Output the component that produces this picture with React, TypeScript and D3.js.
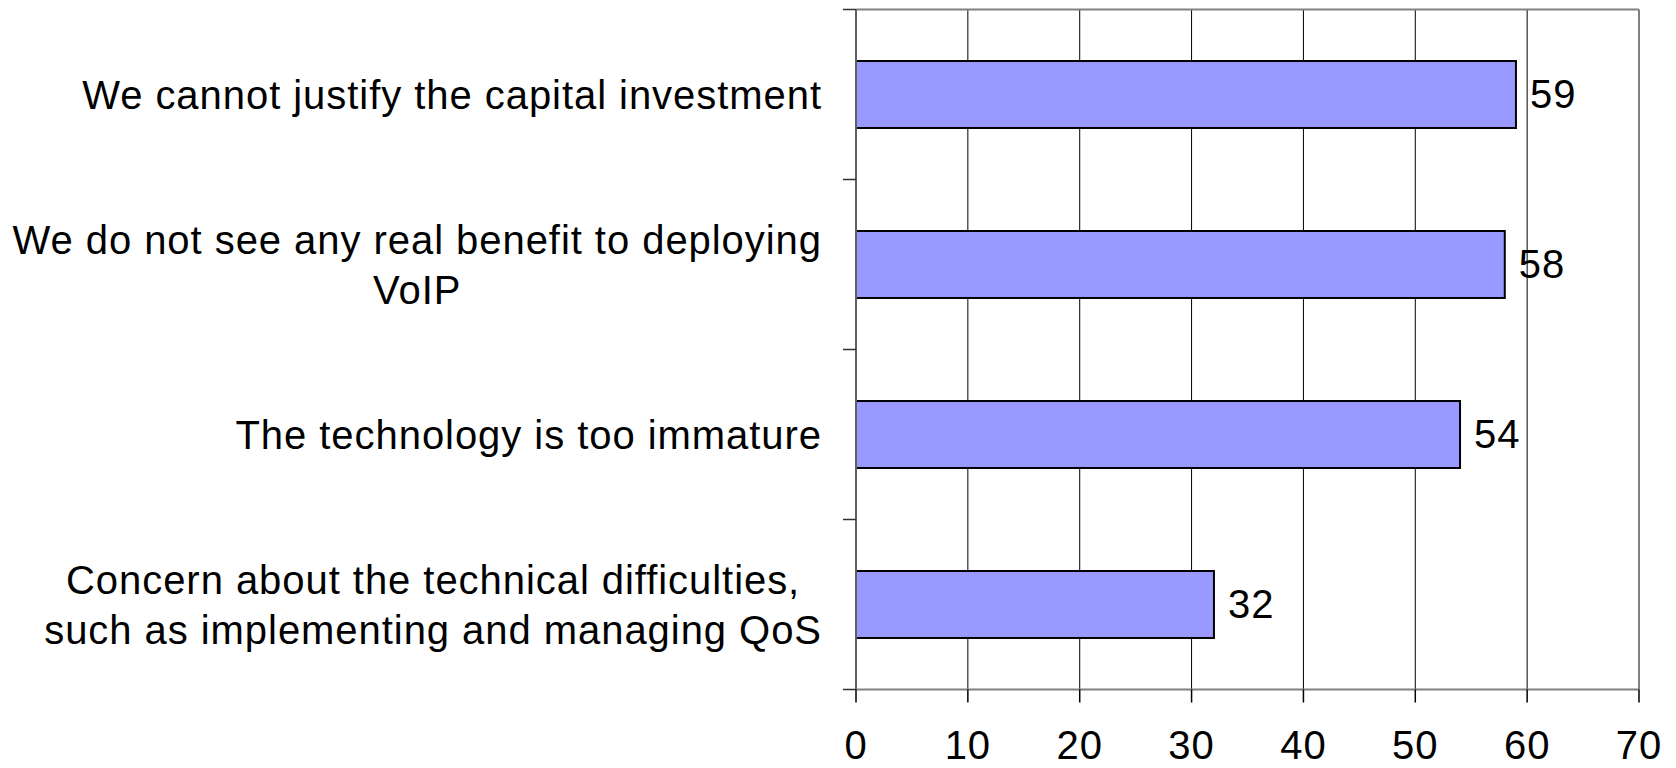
import React, { useEffect, useRef } from "react";
import * as d3 from "d3";

const categories: string[][] = [
  ["We cannot justify the capital investment"],
  ["We do not see any real benefit to deploying", "VoIP"],
  ["The technology is too immature"],
  ["Concern about the technical difficulties,", "such as implementing and managing QoS"],
];
const values: number[] = [59, 58, 54, 32];
const xTicks: number[] = [0, 10, 20, 30, 40, 50, 60, 70];

const W = 1676;
const H = 768;
const left = 856;
const right = 1639;
const top = 9.5;
const bottom = 689.5;
const FONT = "'Liberation Sans', Arial, sans-serif";
const FS = 40;
const LS = 0.95;

export default function App() {
  const ref = useRef<SVGSVGElement>(null);
  useEffect(() => {
    const svg = d3.select(ref.current);
    svg.selectAll("*").remove();
    const x = d3.scaleLinear().domain([0, 70]).range([left, right]);
    const idx = categories.map((_, i) => String(i));
    const y = d3.scaleBand().domain(idx).range([top, bottom]).paddingInner(0.606).paddingOuter(0.303);
    const band = (bottom - top) / categories.length;

    // gridlines
    svg.append("g").selectAll("line").data(xTicks.filter((t) => t > 0 && t < 70)).join("line")
      .attr("x1", (d) => x(d)).attr("x2", (d) => x(d))
      .attr("y1", top).attr("y2", bottom)
      .attr("stroke", "#000").attr("stroke-width", 1);

    // top & right border
    svg.append("line").attr("x1", left).attr("x2", right).attr("y1", top).attr("y2", top)
      .attr("stroke", "#808080").attr("stroke-width", 2);
    svg.append("line").attr("x1", right).attr("x2", right).attr("y1", top).attr("y2", bottom)
      .attr("stroke", "#808080").attr("stroke-width", 2);

    // bars
    svg.append("g").selectAll("rect").data(values).join("rect")
      .attr("x", x(0))
      .attr("y", (_, i) => y(String(i))!)
      .attr("width", (d) => x(d) - x(0))
      .attr("height", y.bandwidth())
      .attr("fill", "#9999FF").attr("stroke", "#000").attr("stroke-width", 2);

    // value labels
    svg.append("g").selectAll("text").data(values).join("text")
      .attr("x", (d) => x(d) + 14)
      .attr("y", (_, i) => y(String(i))! + y.bandwidth() / 2 + 13)
      .attr("font-family", FONT).attr("font-size", FS).attr("letter-spacing", LS)
      .attr("fill", "#000")
      .text((d) => String(d));

    // y axis line and ticks
    svg.append("line").attr("x1", left).attr("x2", left).attr("y1", top).attr("y2", bottom)
      .attr("stroke", "#606060").attr("stroke-width", 2);
    const bounds = d3.range(categories.length + 1).map((i) => top + i * band);
    svg.append("g").selectAll("line").data(bounds).join("line")
      .attr("x1", left - 13).attr("x2", left).attr("y1", (d) => d).attr("y2", (d) => d)
      .attr("stroke", "#303030").attr("stroke-width", 1.5);

    // x axis
    svg.append("line").attr("x1", left).attr("x2", right).attr("y1", bottom).attr("y2", bottom)
      .attr("stroke", "#808080").attr("stroke-width", 2);
    svg.append("g").selectAll("line").data(xTicks).join("line")
      .attr("x1", (d) => x(d)).attr("x2", (d) => x(d)).attr("y1", bottom).attr("y2", bottom + 13)
      .attr("stroke", "#000").attr("stroke-width", 1.5);
    svg.append("g").selectAll("text").data(xTicks).join("text")
      .attr("x", (d) => x(d))
      .attr("y", 759)
      .attr("text-anchor", "middle")
      .attr("font-family", FONT).attr("font-size", FS).attr("letter-spacing", LS)
      .text((d) => String(d));

    // category labels (block right-aligned, lines centered)
    const labelRight = 822;
    categories.forEach((lines, i) => {
      const cy = top + (i + 0.5) * band;
      const g = svg.append("g");
      const texts = lines.map((ln, j) =>
        g.append("text")
          .attr("y", cy + (j - (lines.length - 1) / 2) * 50 + 14)
          .attr("text-anchor", "middle")
          .attr("font-family", FONT).attr("font-size", FS).attr("letter-spacing", LS)
          .text(ln)
      );
      const widths = texts.map((t) => (t.node() as SVGTextElement).getComputedTextLength());
      const maxW = Math.max(...widths);
      const cx = labelRight - maxW / 2;
      texts.forEach((t) => t.attr("x", cx));
    });
  }, []);
  return (
    <svg ref={ref} width={W} height={H} style={{ position: "absolute", left: 0, top: 0, background: "#fff" }} />
  );
}
